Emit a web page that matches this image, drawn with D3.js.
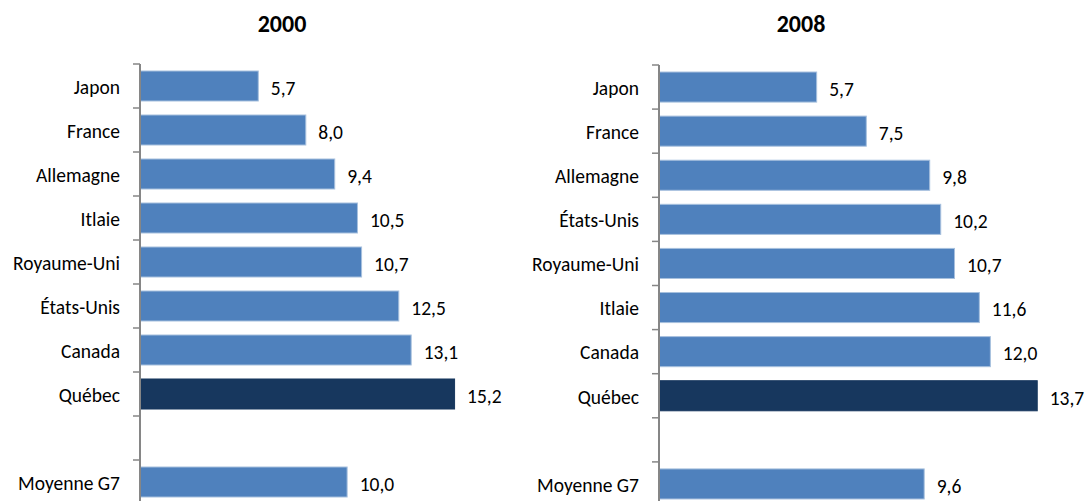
<!DOCTYPE html>
<html>
<head>
<meta charset="utf-8">
<script src="https://cdn.jsdelivr.net/npm/d3@7"></script>
<style>
  html, body { margin: 0; padding: 0; background: #fff; }
  svg { display: block; }
  text { font-family: Carlito, Calibri, Lato, sans-serif; fill: #000; }
</style>
</head>
<body>
<svg id="chart" width="1086" height="501"></svg>
<script>
// ---- data ----
const categories2000 = ["Japon", "France", "Allemagne", "Itlaie", "Royaume-Uni", "États-Unis", "Canada", "Québec", "", "Moyenne G7"];
const values2000     = [5.7, 8.0, 9.4, 10.5, 10.7, 12.5, 13.1, 15.2, null, 10.0];
const categories2008 = ["Japon", "France", "Allemagne", "États-Unis", "Royaume-Uni", "Itlaie", "Canada", "Québec", "", "Moyenne G7"];
const values2008     = [5.7, 7.5, 9.8, 10.2, 10.7, 11.6, 12.0, 13.7, null, 9.6];
const titles = ["2000", "2008"];
const highlight = "Québec";

// ---- layout ----
const panels = [
  { title: titles[0], cats: categories2000, vals: values2000, x0: 140, xMax: 16, xEnd: 470.6, y0: 64, y1: 504, titleX: 282 },
  { title: titles[1], cats: categories2008, vals: values2008, x0: 659, xMax: 14, xEnd: 1045, y0: 65, y1: 506, titleX: 801 }
];

const svg = d3.select("#chart");
const fmt = v => d3.format(".1f")(v).replace(".", ",");

panels.forEach(p => {
  const g = svg.append("g");
  const data = p.cats.map((c, i) => ({ cat: c, val: p.vals[i], key: c || "_blank" }));

  const x = d3.scaleLinear().domain([0, p.xMax]).range([p.x0, p.xEnd]);
  const y = d3.scaleBand().domain(data.map(d => d.key)).range([p.y0, p.y1])
    .paddingInner(0.318).paddingOuter(0.159);

  // title
  g.append("text")
    .attr("x", p.titleX).attr("y", 32)
    .attr("text-anchor", "middle")
    .style("font-size", "24px").style("font-weight", "bold")
    .text(p.title);

  // bars
  g.selectAll("rect.bar").data(data.filter(d => d.val != null)).enter()
    .append("rect").attr("class", "bar")
    .attr("x", x(0) + 0.5)
    .attr("y", d => y(d.key))
    .attr("width", d => x(d.val) - x(0))
    .attr("height", y.bandwidth())
    .attr("fill", d => d.cat === highlight ? "#17375E" : "#4F81BD")
    .attr("stroke", d => d.cat === highlight ? "#17375E" : "#A7C0DE")
    .attr("stroke-width", 1);

  // value labels
  g.selectAll("text.val").data(data.filter(d => d.val != null)).enter()
    .append("text").attr("class", "val")
    .attr("x", d => x(d.val) + 13)
    .attr("y", d => y(d.key) + y.bandwidth() / 2 + 2)
    .attr("dy", "0.35em")
    .style("font-size", "19.5px")
    .text(d => fmt(d.val));

  // category labels
  g.selectAll("text.cat").data(data).enter()
    .append("text").attr("class", "cat")
    .attr("x", x(0) - 20)
    .attr("y", d => y(d.key) + y.bandwidth() / 2 + 1)
    .attr("dy", "0.35em")
    .attr("text-anchor", "end")
    .style("font-size", "19.5px")
    .text(d => d.cat);

  // axis line and ticks at band boundaries
  const step = y.step();
  const first = y(data[0].key) - y.paddingInner() * step / 2;
  g.append("line")
    .attr("x1", x(0)).attr("x2", x(0))
    .attr("y1", first).attr("y2", 501)
    .attr("stroke", "#868686").attr("stroke-width", 2);
  g.selectAll("line.tick").data(d3.range(data.length)).enter()
    .append("line").attr("class", "tick")
    .attr("x1", x(0) - 7).attr("x2", x(0))
    .attr("y1", i => first + i * step).attr("y2", i => first + i * step)
    .attr("stroke", "#868686").attr("stroke-width", 1.5);
});
</script>
</body>
</html>
